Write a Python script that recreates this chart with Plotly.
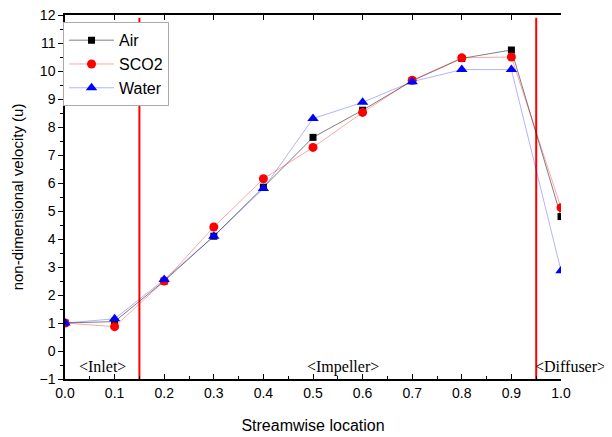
import plotly.graph_objects as go

x_loc = [0.0, 0.1, 0.2, 0.3, 0.4, 0.5, 0.6, 0.7, 0.8, 0.9, 1.0]
air = [1.0, 1.05, 2.5, 4.1, 5.85, 7.63, 8.6, 9.65, 10.45, 10.75, 4.8]
sco2 = [1.0, 0.87, 2.5, 4.43, 6.15, 7.27, 8.52, 9.67, 10.47, 10.5, 5.12]
water = [1.0, 1.15, 2.55, 4.1, 5.8, 8.3, 8.88, 9.62, 10.05, 10.05, 2.87]
region_bounds = [0.15, 0.95]
region_labels = ["<Inlet>", "<Impeller>", "<Diffuser>"]
region_label_x = [0.075, 0.561, 1.02]
x_ticks = [0.0, 0.1, 0.2, 0.3, 0.4, 0.5, 0.6, 0.7, 0.8, 0.9, 1.0]
y_ticks = list(range(-1, 13))

fig = go.Figure()
fig.add_trace(go.Scatter(x=x_loc, y=air, name="Air", mode="lines+markers",
                         line=dict(color="rgba(0,0,0,0.5)", width=1),
                         marker=dict(symbol="square", size=7, color="black")))
fig.add_trace(go.Scatter(x=x_loc, y=sco2, name="SCO2", mode="lines+markers",
                         line=dict(color="rgba(255,0,0,0.35)", width=1),
                         marker=dict(symbol="circle", size=9, color="red")))
fig.add_trace(go.Scatter(x=x_loc, y=water, name="Water", mode="lines+markers",
                         line=dict(color="rgba(0,0,255,0.3)", width=1),
                         marker=dict(symbol="triangle-up", size=10, color="blue")))
# helper trace so the top axis is drawn
fig.add_trace(go.Scatter(x=[x_loc[0]], y=[air[0]], xaxis="x2", mode="markers",
                         marker=dict(opacity=0), showlegend=False, hoverinfo="skip"))

for b in region_bounds:
    fig.add_shape(type="line", x0=b, x1=b, y0=-1, y1=11.9, xref="x", yref="y",
                  line=dict(color="red", width=2), layer="below")

# x axis spans exactly [0, 1], so paper fraction equals the streamwise location
for lab, lx in zip(region_labels, region_label_x):
    fig.add_annotation(x=lx, y=-0.57, text=lab, showarrow=False, xref="paper", yref="y",
                       xanchor="center", yanchor="middle",
                       font=dict(family="Liberation Serif", size=16, color="black"))

fig.update_layout(
    width=604, height=429,
    margin=dict(l=57, r=51, t=7, b=58),
    paper_bgcolor="white", plot_bgcolor="white",
    font=dict(family="Liberation Sans", size=14, color="black"),
    legend=dict(x=-0.004, y=0.98, xanchor="left", yanchor="top",
                bgcolor="white", bordercolor="#aaa", borderwidth=1,
                font=dict(size=16), tracegroupgap=0, itemwidth=45),
    showlegend=True,
    xaxis2=dict(overlaying="x", side="top", range=[0, 1.0], tickvals=x_ticks,
                showticklabels=False, ticks="inside", ticklen=5, tickcolor="black",
                showline=True, linecolor="black", linewidth=1.5, showgrid=False,
                zeroline=False),
)
fig.layout.xaxis.update(range=[0, 1.0], tickvals=x_ticks, ticktext=[f"{v:.1f}" for v in x_ticks],
                        ticks="inside", ticklen=5, tickcolor="black", showline=True,
                        linecolor="black", linewidth=1.5, showgrid=False,
                        zeroline=False, automargin=False, ticklabeloverflow="allow",
                        minor=dict(dtick=0.05, ticks="inside", ticklen=3, tickcolor="black"),
                        title=dict(text="Streamwise location", font=dict(size=16), standoff=20))
fig.update_yaxes(range=[-1, 12], tickvals=y_ticks, ticks="outside", ticklen=5,
                 tickcolor="black", showline=True, linecolor="black", linewidth=1.5,
                 showgrid=False, zeroline=False, automargin=False, ticklabeloverflow="allow",
                 minor=dict(dtick=0.5, ticks="outside", ticklen=3, tickcolor="black"),
                 title=dict(text="non-dimensional velocity (u)", font=dict(size=15), standoff=12))

fig.write_html("out.html")
